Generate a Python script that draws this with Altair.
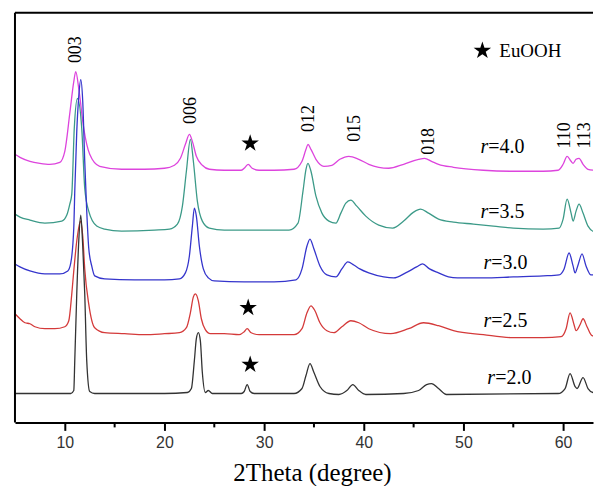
import altair as alt
import pandas as pd

# ---------------- data (2θ in degrees, stacked intensity in a.u.) ----------------
series_names = ["r=4.0", "r=3.5", "r=3.0", "r=2.5", "r=2.0"]
series_colors = ["#dd44dd", "#3c9a88", "#3535cc", "#d43a3a", "#333333"]

x_40 = [5.0, 5.5, 6.5, 7.5, 8.5, 9.5, 10.0, 10.5, 10.9, 11.1, 11.4, 11.9, 12.5, 13.5, 15.7, 18, 20, 21.0, 21.6,
        22.1, 22.5, 22.8, 23.2, 23.8, 24.5, 26, 27.7, 28.1, 28.4, 28.8, 29.5, 31, 33, 33.8, 34.2, 34.4, 34.7,
        35.2, 36, 36.8, 37.6, 38.5, 39.5, 40.5, 41.5, 42.5, 44, 45.5, 46.1, 46.8, 47.5, 49, 52, 55, 58, 59.5,
        60.0, 60.4, 60.8, 61.0, 61.3, 61.6, 62.0, 62.5, 63.2, 64.5]
y_40 = [269, 266, 262, 260, 259, 261, 272, 310, 342, 352, 335, 295, 269, 257, 254, 254, 255, 258, 265,
        279, 289, 282, 267, 258, 254, 253, 253, 256, 259, 255, 253, 253, 254, 262, 274, 279, 274,
        264, 257, 258, 264, 267, 264, 259, 256, 255, 259, 264, 265, 262, 259, 256, 253, 252, 252, 253,
        259, 267, 262, 260, 264, 265, 259, 254, 253, 252]

x_35 = [5.0, 5.5, 6.5, 8, 9.7, 10.2, 10.5, 10.7, 10.95, 11.27, 11.7, 12.0, 12.4, 13.2, 14, 15.7, 19, 20.5,
        21.3, 21.8, 22.2, 22.6, 22.9, 23.3, 23.8, 24.5, 26, 30, 32.5, 33.4, 33.9, 34.2, 34.4, 34.7, 35.2,
        35.8, 36.5, 37.2, 37.7, 38.2, 38.7, 39.3, 40.2, 41.5, 42.9, 44, 45, 45.7, 46.5, 47.5, 49, 51, 53,
        55, 58, 59.6, 60.0, 60.4, 60.8, 61.0, 61.3, 61.6, 62.0, 62.5, 63.2, 64.5]
y_35 = [209, 206, 203, 200, 202, 208, 219, 229, 295, 325, 295, 235, 212, 197, 194, 192, 193, 194,
        199, 217, 252, 284, 262, 222, 202, 195, 193, 193, 193, 200, 232, 254, 260, 252, 227,
        210, 202, 200, 210, 220, 223, 217, 207, 198, 195, 202, 211, 214, 210, 204, 201, 199, 197,
        195, 194, 195, 204, 224, 210, 202, 212, 219, 210, 197, 191, 190]

x_30 = [5.0, 5.5, 6.5, 8, 9.5, 10.3, 10.6, 10.9, 11.0, 11.2, 11.4, 11.6, 11.8, 12.0, 12.2, 12.4, 12.7, 13.0,
        14, 17, 20, 21.5, 22.1, 22.5, 22.8, 23.0, 23.2, 23.5, 23.9, 24.4, 25, 28, 31, 33.2, 33.8, 34.3,
        34.6, 35.0, 35.6, 36.3, 37.2, 37.8, 38.4, 39.0, 39.6, 40.5, 42, 43, 44.2, 45.3, 45.9, 46.6, 47.5,
        48.5, 49.4, 52, 55, 58, 59.6, 60.1, 60.6, 61.0, 61.2, 61.5, 61.9, 62.3, 62.8, 64.5]
y_30 = [159, 156, 152, 149, 149, 152, 160, 195, 232, 292, 327, 344, 322, 262, 212, 175, 157, 147,
        144, 143, 143, 144, 150, 167, 197, 215, 207, 177, 154, 145, 142, 141, 141, 143, 154, 177,
        184, 174, 157, 148, 146, 154, 161, 158, 154, 150, 146, 145, 150, 156, 159, 154, 150,
        146, 145, 145, 146, 147, 148, 154, 170, 157, 150, 158, 169, 157, 148, 148]

x_25 = [5.0, 5.5, 6.0, 6.5, 7.0, 8.0, 9.0, 10.0, 10.4, 10.7, 10.9, 11.2, 11.5, 11.6, 11.8, 12.0, 12.4, 13.0,
        14, 16, 18, 20, 21.5, 22.2, 22.6, 22.9, 23.1, 23.4, 23.7, 24.1, 24.6, 26, 27.5, 28.0, 28.3, 28.7,
        29.5, 33, 33.8, 34.3, 34.7, 35.1, 35.6, 36.3, 37, 37.8, 38.7, 39.5, 40.5, 42.7, 44.5, 46, 47.5, 49,
        52, 55, 58, 59.8, 60.3, 60.7, 61.1, 61.3, 61.7, 62.0, 62.4, 62.9, 64.5]
y_25 = [109, 104, 100, 99, 96, 94, 94, 96, 102, 129, 152, 182, 200, 202, 187, 154, 119, 95,
        90, 89, 88, 89, 90, 95, 110, 126, 129, 122, 104, 93, 89, 89, 88, 91, 94, 90,
        88, 88, 94, 110, 117, 112, 100, 92, 90, 96, 102, 100, 94, 89, 94, 100, 97, 92,
        88, 85, 85, 86, 94, 110, 98, 92, 98, 104, 96, 87, 85]

x_20 = [5.0, 8, 10.6, 10.9, 11.0, 11.2, 11.4, 11.6, 11.8, 12.0, 12.2, 12.5, 13, 16, 20, 22.3, 22.7, 23.0, 23.2,
        23.4, 23.6, 23.8, 24.1, 24.4, 24.8, 27.7, 28.0, 28.3, 28.6, 29, 33, 33.8, 34.2, 34.6, 35.0, 35.6,
        36.5, 37.5, 38.3, 38.9, 39.5, 40.2, 44, 45.5, 46.3, 46.8, 47.5, 48.3, 59.5, 60.2, 60.7, 61.2, 61.4,
        62.0, 62.5, 63, 64.5]
y_20 = [29, 29, 29, 32, 62, 129, 182, 208, 177, 129, 62, 31, 29, 29, 29, 30, 34, 62, 84,
        90, 82, 50, 30, 32, 29, 29, 31, 38, 31, 29, 29, 34, 47, 59, 50, 36,
        29, 28, 32, 38, 32, 28, 29, 32, 38, 39, 34, 28, 29, 34, 49, 36, 34,
        45, 34, 30, 29]

# peak (hkl) annotations
peak_labels = ["003", "006", "012", "015", "018", "110", "113"]
peak_x = [11.1, 22.7, 34.5, 39.1, 46.5, 60.2, 62.2]
peak_y = [374, 313, 305, 295, 282, 288, 288]

# series labels (italic r + rest)
label_rest = ["=4.0", "=3.5", "=3.0", "=2.5", "=2.0"]
label_x = [51.7, 51.7, 52.0, 52.0, 52.4]
label_y = [276, 211, 160, 102, 45]

# EuOOH star markers
star_x = [28.6, 28.4, 28.6]
star_y = [280, 115, 58]

legend_star_x = [51.9]
legend_star_y = [373]
legend_text = ["EuOOH"]
legend_text_x = [53.6]

major_ticks = [10, 20, 30, 40, 50, 60]
minor_ticks = [15, 25, 35, 45, 55]

STAR_PATH = ("M0,-1L0.2245,-0.309L0.951,-0.309L0.363,0.118L0.588,0.809L0,0.382"
             "L-0.588,0.809L-0.363,0.118L-0.951,-0.309L-0.2245,-0.309Z")

# ---------------- build tables ----------------
rows = []
for name, xs, ys in zip(series_names,
                        [x_40, x_35, x_30, x_25, x_20],
                        [y_40, y_35, y_30, y_25, y_20]):
    for a, b in zip(xs, ys):
        rows.append({"series": name, "two_theta": a, "intensity": b})
df = pd.DataFrame(rows)

PLOT_W = 580
PLOT_H = 411
x_scale = alt.Scale(domain=[5, 63], nice=False, zero=False)
y_scale = alt.Scale(domain=[0, 411], nice=False, zero=False)

lines = alt.Chart(df).mark_line(strokeWidth=1.3, clip=True, interpolate="monotone").encode(
    x=alt.X("two_theta:Q", scale=x_scale,
            axis=alt.Axis(values=major_ticks, title="2Theta (degree)", grid=False,
                          domainColor="black", domainWidth=2, tickColor="black", tickWidth=2,
                          tickSize=8, labelFont="Liberation Sans", labelFontSize=16,
                          labelColor="#333333", labelPadding=4, titleFont="Liberation Serif",
                          titleFontSize=25, titleFontWeight="normal", titleColor="black",
                          titlePadding=10, titleX=298)),
    y=alt.Y("intensity:Q", scale=y_scale, axis=None),
    color=alt.Color("series:N", scale=alt.Scale(domain=series_names, range=series_colors), legend=None),
)

minor = alt.Chart(pd.DataFrame({"two_theta": minor_ticks})).mark_rule(
    color="black", strokeWidth=2).encode(
    x=alt.X("two_theta:Q", scale=x_scale), y=alt.value(PLOT_H), y2=alt.value(PLOT_H + 5))

# top and left frame lines (the right side of the original frame is off-canvas)
frame_top = alt.Chart(pd.DataFrame({"k": [0]})).mark_rule(color="black", strokeWidth=2).encode(
    x=alt.value(0), x2=alt.value(PLOT_W), y=alt.value(0))
frame_left = alt.Chart(pd.DataFrame({"k": [0]})).mark_rule(color="black", strokeWidth=2).encode(
    x=alt.value(0), y=alt.value(0), y2=alt.value(PLOT_H))

peaks = alt.Chart(pd.DataFrame({"two_theta": peak_x, "intensity": peak_y, "lab": peak_labels})).mark_text(
    angle=270, align="center", baseline="middle", font="Liberation Serif", fontSize=18, color="black"
).encode(x=alt.X("two_theta:Q", scale=x_scale), y=alt.Y("intensity:Q", scale=y_scale), text="lab:N")

lab_df = pd.DataFrame({"two_theta": label_x, "intensity": label_y, "rest": label_rest,
                       "r": ["r"] * len(label_rest)})
r_part = alt.Chart(lab_df).mark_text(
    align="left", baseline="middle", font="Liberation Serif", fontSize=20, fontStyle="italic", color="black"
).encode(x=alt.X("two_theta:Q", scale=x_scale), y=alt.Y("intensity:Q", scale=y_scale), text="r:N")
rest_part = alt.Chart(lab_df).mark_text(
    align="left", baseline="middle", font="Liberation Serif", fontSize=20, color="black", dx=8
).encode(x=alt.X("two_theta:Q", scale=x_scale), y=alt.Y("intensity:Q", scale=y_scale), text="rest:N")

stars = alt.Chart(pd.DataFrame({"two_theta": star_x + legend_star_x,
                                "intensity": star_y + legend_star_y})).mark_point(
    shape=STAR_PATH, filled=True, color="black", size=340, opacity=1
).encode(x=alt.X("two_theta:Q", scale=x_scale), y=alt.Y("intensity:Q", scale=y_scale))

legend_lab = alt.Chart(pd.DataFrame({"two_theta": legend_text_x, "intensity": legend_star_y,
                                     "t": legend_text})).mark_text(
    align="left", baseline="middle", font="Liberation Serif", fontSize=19, color="black"
).encode(x=alt.X("two_theta:Q", scale=x_scale), y=alt.Y("intensity:Q", scale=y_scale), text="t:N")

chart = alt.layer(lines, minor, frame_top, frame_left, peaks, r_part, rest_part, stars, legend_lab).properties(
    width=PLOT_W, height=PLOT_H,
    padding={"left": 6, "top": 3, "right": 0, "bottom": 0},
    background="white",
).configure_view(strokeWidth=0)

chart.save("out.html", embed_options={"renderer": "svg", "actions": False})
